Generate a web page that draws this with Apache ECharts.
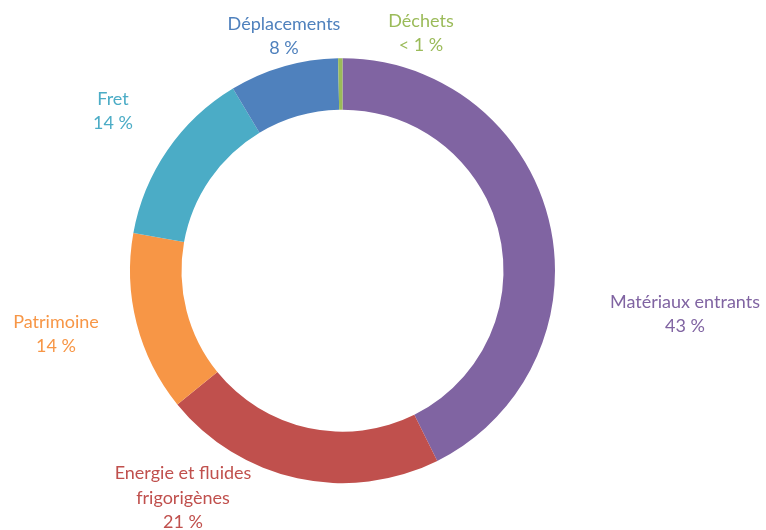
<!DOCTYPE html>
<html>
<head>
<meta charset="utf-8">
<script src="https://cdn.jsdelivr.net/npm/echarts@6/dist/echarts.min.js"></script>
<style>
  html, body { margin: 0; padding: 0; background: #fff; }
  #chart { width: 766px; height: 530px; }
</style>
</head>
<body>
<div id="chart"></div>
<script>
// slices, clockwise from 12 o'clock
const categories = ['Matériaux entrants', 'Energie et fluides\nfrigorigènes', 'Patrimoine', 'Fret', 'Déplacements', 'Déchets'];
const shares = [42.64, 21.53, 13.67, 13.54, 8.29, 0.33];
const shareLabels = ['43 %', '21 %', '14 %', '14 %', '8 %', '< 1 %'];
const colors = ['#8064A2', '#C0504D', '#F79646', '#4BACC6', '#4F81BD', '#9BBB59'];

// where each label box is centred (Excel moved them by hand)
const labelSpots = [[685, 314], [183, 498], [56, 334], [113, 111], [284, 36], [421, 33]];

const chart = echarts.init(document.getElementById('chart'));

const option = {
  animation: false,
  series: [{
    type: 'pie',
    center: [342.5, 270.7],
    radius: [161, 212.5],
    startAngle: 90,
    clockwise: true,
    avoidLabelOverlap: false,
    data: categories.map((name, i) => ({
      name: name,
      value: shares[i],
      itemStyle: { color: colors[i] },
      label: { color: colors[i] }
    })),
    itemStyle: { borderWidth: 0 },
    label: {
      show: true,
      position: 'outside',
      fontFamily: 'Lato',
      fontSize: 18,
      lineHeight: 24.5,
      formatter: (p) => {
        const lines = p.name.split('\n').concat(shareLabels[p.dataIndex]);
        return lines.map(l => '{c|' + l + '}').join('\n');
      },
      rich: {
        c: { align: 'center', fontFamily: 'Lato', fontSize: 18, lineHeight: 24.5 }
      }
    },
    labelLine: { show: false },
    labelLayout: (params) => ({
      x: labelSpots[params.dataIndex][0],
      y: labelSpots[params.dataIndex][1],
      align: 'center',
      verticalAlign: 'middle'
    }),
    emphasis: { disabled: true }
  }]
};

chart.setOption(option);
</script>
</body>
</html>
